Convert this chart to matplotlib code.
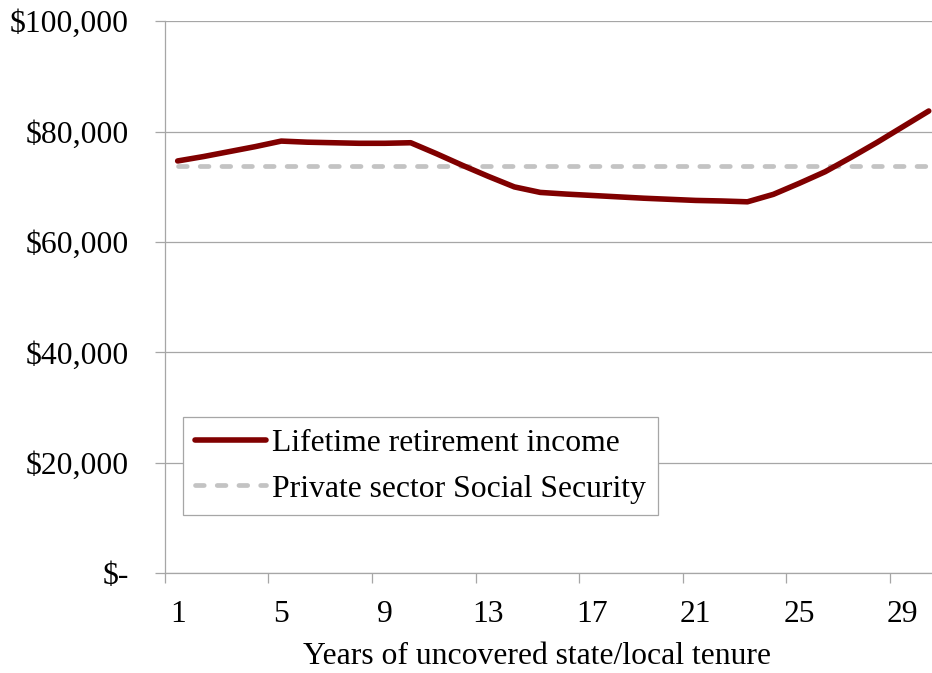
## Lifetime retirement income vs. private sector Social Security
## plot.py

import matplotlib
matplotlib.use("Agg")
from matplotlib import pyplot as plt
from matplotlib.ticker import FuncFormatter, FixedLocator

# ------------------------------- #
# Data
# ------------------------------- #

years = list(range(1, 31))
lifetime_income = [74700, 75500, 76400, 77300, 78300, 78100, 78000, 77900, 77900, 78000,
                   76000, 73900, 71900, 70000, 69000, 68700, 68450, 68200, 67950, 67750,
                   67550, 67450, 67300, 68650, 70650, 72750, 75350, 78050, 80900, 83750]
social_security = [73800] * 30
year_labels = [1, 5, 9, 13, 17, 21, 25, 29]
y_ticks = [0, 20000, 40000, 60000, 80000, 100000]

series_labels = ["Lifetime retirement income", "Private sector Social Security"]

# ------------------------------- #

plt.rcParams['font.family'] = ['Liberation Serif', 'DejaVu Serif']
font_size = 22.8
grid_color = "#a6a6a6"

# Figure is 932 x 673 px
fig = plt.figure(figsize=(9.32, 6.73), dpi=100)
# Plot area runs past the right edge of the picture, as in the reference
ax = fig.add_axes([164.7 / 932, 99.7 / 673, 777 / 932, 552 / 673])

# Lines
ax.plot(years, lifetime_income, color="#800000", lw=4.0, solid_capstyle="round",
        solid_joinstyle="round", label=series_labels[0], zorder=3)
ss_line, = ax.plot(years, social_security, color="#c3c3c3", lw=3.4,
                   dash_capstyle="round", label=series_labels[1], zorder=2)
ss_line.set_dashes([1.85, 2.75])

# Axes limits (category axis: half a category of padding each side)
ax.set_xlim(0.5, 30.5)
ax.set_ylim(0, 100000)

# Y axis: gridlines and dollar labels
ax.yaxis.set_major_locator(FixedLocator(y_ticks))
ax.yaxis.set_major_formatter(FuncFormatter(lambda v, p: "$-" if v == 0 else "${:,.0f}".format(v)))
ax.grid(axis="y", color=grid_color, lw=0.9)
ax.set_axisbelow(True)

# X axis: ticks between categories, labels on every fourth category
ax.set_xticks([x - 0.5 for x in year_labels])
ax.set_xticklabels([])
ax.set_xticks(year_labels, minor=True)
ax.set_xticklabels([str(v) for v in year_labels], minor=True)
ax.tick_params(axis="x", which="minor", length=0, pad=19, labelsize=font_size)
ax.tick_params(axis="x", which="major", length=7, width=0.9, color=grid_color, direction="out")
ax.tick_params(axis="y", length=7, width=0.9, color=grid_color, pad=19, labelsize=font_size)

# Spines
for side in ["top", "right"]:
    ax.spines[side].set_visible(False)
for side in ["left", "bottom"]:
    ax.spines[side].set_color(grid_color)
    ax.spines[side].set_linewidth(0.9)

# Axis title, centred as in the reference
fig.text(537 / 932, 1 - 656 / 673, "Years of uncovered state/local tenure",
         ha="center", va="center", fontsize=font_size)

# Legend
leg = ax.legend(loc="upper left", bbox_to_anchor=(183.3 / 932, 1 - 417.3 / 673),
                bbox_transform=fig.transFigure, fontsize=font_size, frameon=True,
                fancybox=False, edgecolor=grid_color, framealpha=1,
                handlelength=2.25, handletextpad=0.2, labelspacing=0.52,
                borderpad=0.36, borderaxespad=0)
leg.get_frame().set_linewidth(0.9)

fig.savefig("out.png", dpi=100)
